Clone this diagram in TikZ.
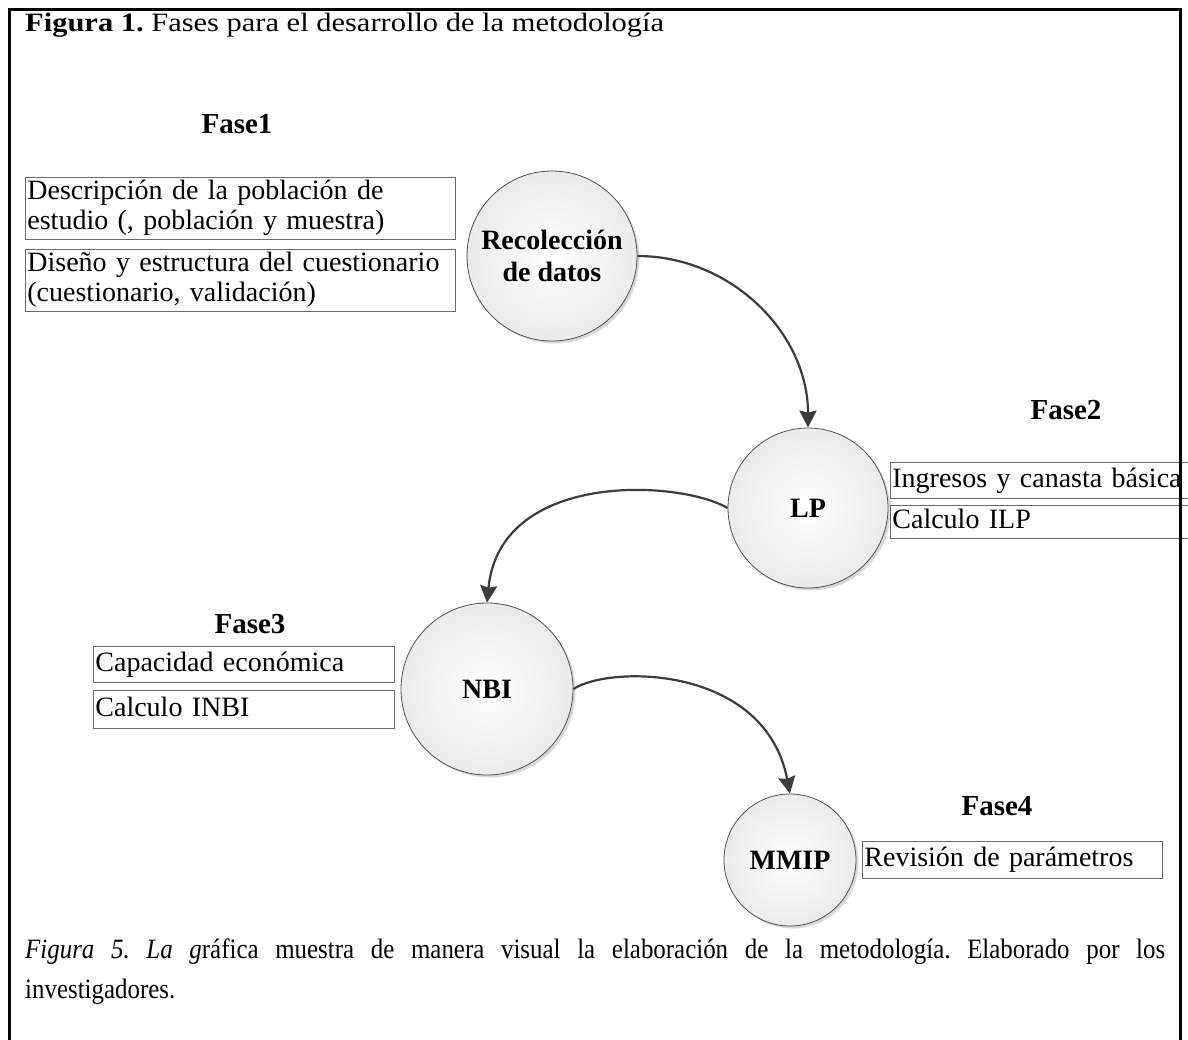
\documentclass[tikz,border=0pt]{standalone}
\usepackage{fontspec}
\setmainfont{Liberation Serif}
\newfontfamily\titlefont[FakeStretch=1.15]{Liberation Serif}
\newfontfamily\capfont[FakeStretch=0.89]{Liberation Serif}
\usetikzlibrary{arrows.meta,shadows}
\definecolor{arrowc}{HTML}{3C3C3C}
\definecolor{circb}{HTML}{505050}
\definecolor{boxb}{HTML}{6A6A6A}
\frenchspacing
\begin{document}
\begin{tikzpicture}[x=1pt,y=-1pt,
  phase/.style={circle, draw=circb, line width=0.8pt, inner color=white, outer color=black!8,
    drop shadow={shadow xshift=2.5pt, shadow yshift=-2.5pt, opacity=0.15, fill=black},
    font=\fontsize{28}{32}\selectfont\bfseries, align=center, inner sep=0pt},
  itembox/.style={draw=boxb, line width=0.8pt, anchor=north west, inner xsep=2pt, inner ysep=0pt,
    align=left, font=\fontsize{28}{30}\selectfont, text height=20pt, text depth=6pt},
  twoline/.style={text height=20pt, text depth=38pt},
  faselabel/.style={anchor=base, font=\fontsize{29}{33}\selectfont\bfseries, inner sep=0pt},
  flow/.style={draw=arrowc, line width=2.2pt, -{Stealth[length=17pt,width=17pt,inset=2pt]}}]
\begin{scope}
\clip (0,0) rectangle (1188,1039);
\fill[white] (0,0) rectangle (1188,1039);

% title
\node[anchor=base west, inner sep=0pt, font=\titlefont\fontsize{26.5}{30}\selectfont] (title) at (25,31)
  {\textbf{Figura 1.} Fases para el desarrollo de la metodología};

% phase labels
\node[faselabel] (f1) at (237,133) {Fase1};
\node[faselabel] (f2) at (1066,419) {Fase2};
\node[faselabel] (f3) at (250,633) {Fase3};
\node[faselabel] (f4) at (997,815) {Fase4};

% boxes
\node[itembox, twoline, text width=426pt, minimum height=62pt] (b1) at (25,177)
  {Descripción de la población de\\estudio (, población y muestra)};
\node[itembox, twoline, text width=426pt, minimum height=62pt] (b2) at (25,249)
  {Diseño y estructura del cuestionario\\(cuestionario, validación)};
\node[itembox, text width=316pt, minimum height=36pt] (b3) at (890,462) {Ingresos y canasta básica};
\node[itembox, text width=316pt, minimum height=33pt] (b4) at (890,505) {Calculo ILP};
\node[itembox, text width=297pt, minimum height=36pt] (b5) at (93,646) {Capacidad económica};
\node[itembox, text width=297pt, minimum height=38pt] (b6) at (93,690) {Calculo INBI};
\node[itembox, text width=296pt, minimum height=37pt] (b7) at (862,841) {Revisión de parámetros};

% circles
\node[phase, minimum size=170pt] (c1) at (552,256) {Recolección\\de datos};
\node[phase, minimum size=160pt] (lp) at (808,508) {LP};
\node[phase, minimum size=172pt] (nbi) at (487,689) {NBI};
\node[phase, minimum size=132pt] (mmip) at (790,860) {MMIP};

% connectors
\draw[flow] (c1.east) .. controls (731,256) and (808,333) .. (lp.north);
\draw[flow] (lp.west) .. controls (680,480) and (500,470) .. (nbi.north);
\draw[flow] (nbi.east) .. controls (610,665) and (765,665) .. (mmip.north);

% caption
\node[anchor=base west, inner sep=0pt, font=\capfont\fontsize{28}{34}\selectfont] (cap1) at (25,958)
  {\makebox[1140pt][s]{\textit{Figura 5. La g}ráfica muestra de manera visual la elaboración de la metodología. Elaborado por los}};
\node[anchor=base west, inner sep=0pt, font=\capfont\fontsize{28}{34}\selectfont] (cap2) at (25,998)
  {investigadores.};

% frame
\draw[line width=3pt, black] (9.5,1050) -- (9.5,9.5) -- (1180,9.5) -- (1180,1050);
\end{scope}
\pgfresetboundingbox
\useasboundingbox (0,0) rectangle (1188,1039);
\end{tikzpicture}
\end{document}
